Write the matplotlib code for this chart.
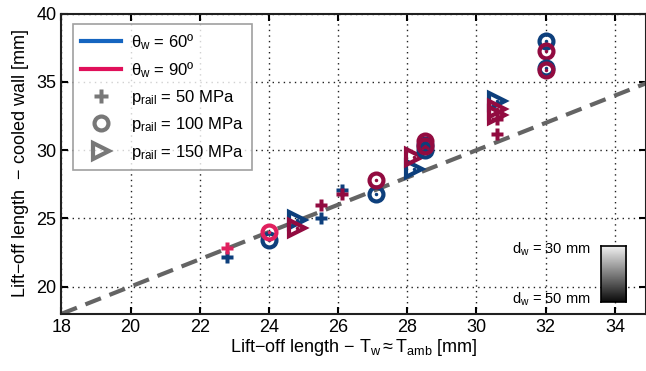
import matplotlib
matplotlib.use("Agg")
import matplotlib.pyplot as plt
import numpy as np
from matplotlib.lines import Line2D

plt.rcParams['font.family'] = ['Liberation Sans', 'DejaVu Sans']
plt.rcParams['mathtext.fontset'] = 'custom'
plt.rcParams['mathtext.rm'] = 'Liberation Sans'
plt.rcParams['mathtext.it'] = 'Liberation Sans'

# (x, y, marker, angle, shade) ; shade: 'l' = d_w 30 mm, 'd' = d_w 50 mm
x_ref  = [22.8, 22.8, 24.0, 24.0, 24.8, 24.8, 25.5, 25.5, 26.1, 26.1,
          27.1, 27.1, 28.2, 28.2, 28.5, 28.5, 28.5, 28.5,
          30.6, 30.6, 30.6, 30.6, 30.6, 32.0, 32.0, 32.0, 32.0]
y_cool = [22.2, 22.8, 23.4, 24.0, 24.9, 24.3, 25.0, 26.0, 27.1, 26.8,
          26.8, 27.8, 28.6, 29.5, 30.4, 30.7, 30.0, 30.3,
          33.6, 33.0, 32.6, 32.3, 31.2, 38.0, 37.3, 36.0, 35.9]
press  = ['+', '+', 'o', 'o', '>', '>', '+', '+', '+', '+',
          'o', 'o', '>', '>', 'o', 'o', 'o', 'o',
          '>', '>', '>', '+', '+', 'o', 'o', 'o', 'o']
angle  = [60, 90, 60, 90, 60, 90, 60, 90, 60, 90,
          60, 90, 60, 90, 60, 90, 60, 90,
          60, 90, 90, 90, 90, 60, 90, 60, 90]
shade  = ['d', 'l', 'd', 'l', 'd', 'd', 'd', 'd', 'd', 'd',
          'd', 'd', 'd', 'd', 'd', 'd', 'd', 'd',
          'd', 'd', 'd', 'd', 'd', 'd', 'd', 'd', 'd']

colors = {(60, 'd'): '#0d3f7c', (60, 'l'): '#1c62b0',
          (90, 'd'): '#920b40', (90, 'l'): '#e0205e'}

fig = plt.figure(figsize=(6.46, 3.71), dpi=100)
ax = fig.add_axes([0.095, 0.154, 0.905, 0.809])

ax.plot([18, 35], [18, 35], '--', color='#646464', lw=3, dashes=(4, 2.2), zorder=2)

for x, y, m, a, s in zip(x_ref, y_cool, press, angle, shade):
    c = colors[(a, s)]
    if m == '+':
        ax.plot(x, y, marker='P', ms=9, color=c, mec='none', ls='none', zorder=3)
    else:
        ax.plot(x, y, marker=m, ms=10 if m == 'o' else 12, mfc='none', mec=c, mew=3, ls='none', zorder=3)
        ax.plot(x, y, marker='.', ms=3, color=c, ls='none', zorder=3)

ax.set_xlim(18, 34.9)
ax.set_ylim(18, 40)
ax.set_xticks(np.arange(18, 35, 2))
ax.set_yticks(np.arange(20, 41, 5))
ax.grid(True, color='#202020', ls=(0, (1, 3)), lw=1)
ax.tick_params(direction='in', top=True, right=True, labelsize=13, length=5, width=1.5)
for sp in ax.spines.values():
    sp.set_linewidth(1.5)
    sp.set_color('#202020')

ax.set_xlabel(r'Lift$-$off length $-$ T$_\mathregular{w}$$\approx$T$_\mathregular{amb}$ [mm]', fontsize=13, labelpad=1)
ax.set_ylabel(r'Lift$-$off length  $-$ cooled wall [mm]', fontsize=13, labelpad=4)

handles = [
    Line2D([], [], color='#1565c0', lw=3),
    Line2D([], [], color='#e0105a', lw=3),
    Line2D([], [], marker='P', ms=10, color='#787878', mec='none', ls='none'),
    Line2D([], [], marker='o', ms=10, mfc='none', mec='#787878', mew=3, ls='none'),
    Line2D([], [], marker='>', ms=12, mfc='none', mec='#787878', mew=3, ls='none'),
]
labels = [r'$\mathregular{\theta_w}$ = 60º', r'$\mathregular{\theta_w}$ = 90º',
          r'p$_\mathregular{rail}$ = 50 MPa', r'p$_\mathregular{rail}$ = 100 MPa',
          r'p$_\mathregular{rail}$ = 150 MPa']
leg = ax.legend(handles, labels, loc='upper left', bbox_to_anchor=(0.005, 0.995),
                fontsize=12, frameon=True, fancybox=False, edgecolor='#888888',
                handlelength=2.4, labelspacing=0.5, borderpad=0.5, handletextpad=0.6)
leg.get_frame().set_linewidth(1.2)

# grayscale bar for wall distance
cax = fig.add_axes([0.930, 0.186, 0.039, 0.151])
grad = np.linspace(1, 0, 100).reshape(-1, 1)
cax.imshow(grad, cmap='gray', aspect='auto', vmin=-0.05, vmax=1.05)
cax.set_xticks([])
cax.set_yticks([])
for sp in cax.spines.values():
    sp.set_linewidth(1.2)
ax.text(33.3, 22.7, r'd$_\mathregular{w}$ = 30 mm', fontsize=10.5, ha='right', va='center')
ax.text(33.3, 19.1, r'd$_\mathregular{w}$ = 50 mm', fontsize=10.5, ha='right', va='center')

fig.savefig('out.png', dpi=100)
